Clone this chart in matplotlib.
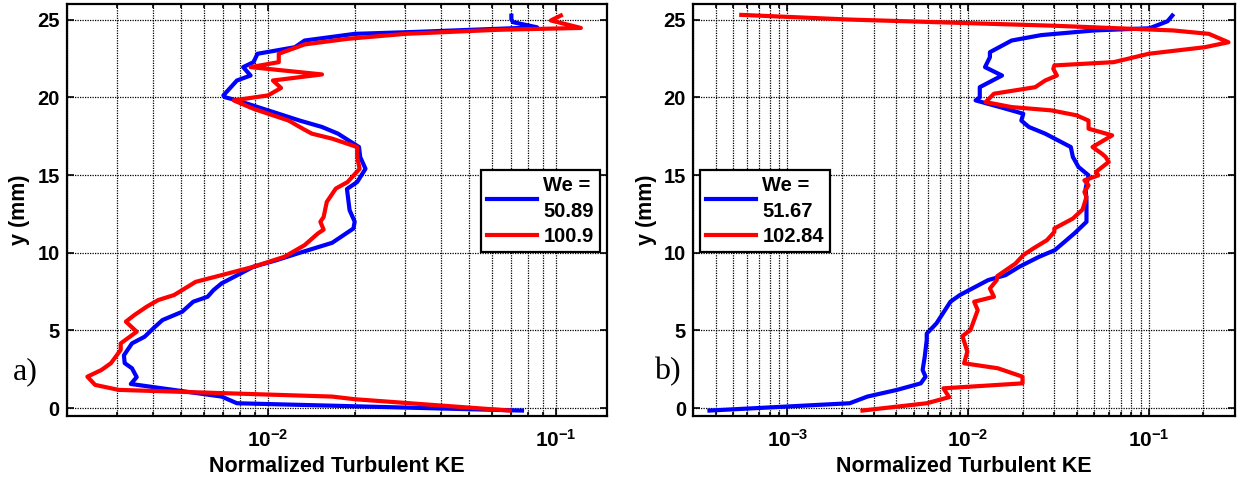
import numpy as np
import matplotlib
matplotlib.use("Agg")
import matplotlib.pyplot as plt
from matplotlib.ticker import LogLocator, FuncFormatter, NullFormatter

plt.rcParams['font.family'] = ['Liberation Sans', 'DejaVu Sans']
plt.rcParams['font.weight'] = 'bold'
plt.rcParams['mathtext.fontset'] = 'custom'
plt.rcParams['mathtext.rm'] = 'Liberation Sans:bold'
plt.rcParams['mathtext.it'] = 'Liberation Sans:bold'
plt.rcParams['mathtext.bf'] = 'Liberation Sans:bold'

# ---------------- data (panel a) ----------------
a_blue_label = "We =\n50.89"
a_blue_y = [-0.15, 0.32, 0.75, 1.56, 2.0, 2.57, 2.9, 3.4, 4.17, 4.6, 5.14, 5.67, 6.2, 6.85,
            7.17, 7.6, 8.03, 9.1, 9.52, 10.0, 10.64, 11.56, 12.0, 12.74, 14.1, 14.55, 15.4,
            16.16, 16.8, 17.66, 18.09, 18.5, 19.16, 19.8, 20.0, 20.12, 21.08, 21.4, 21.72,
            21.94, 22.26, 22.8, 23.22, 23.65, 24.08, 24.2, 24.5, 24.83, 25.0, 25.25]
a_blue_x = [0.0762, 7.8e-3, 6.9e-3, 3.34e-3, 3.5e-3, 3.37e-3, 3.18e-3, 3.16e-3, 3.37e-3,
            3.73e-3, 4.0e-3, 4.3e-3, 5.03e-3, 5.5e-3, 6.17e-3, 6.47e-3, 6.9e-3, 8.9e-3,
            1.07e-2, 1.29e-2, 1.67e-2, 1.98e-2, 2.0e-2, 1.92e-2, 1.88e-2, 2.04e-2, 2.18e-2,
            2.09e-2, 2.07e-2, 1.75e-2, 1.54e-2, 1.29e-2, 1.0e-2, 7.8e-3, 7.1e-3, 7.0e-3,
            7.8e-3, 8.7e-3, 8.4e-3, 8.2e-3, 8.9e-3, 9.2e-3, 1.24e-2, 1.34e-2, 2.0e-2,
            3.2e-2, 8.6e-2, 7.1e-2, 7.0e-2, 7.0e-2]

a_red_label = "100.9"
a_red_y = [-0.15, 0.58, 0.75, 1.18, 1.5, 2.03, 2.46, 2.9, 3.75, 4.17, 4.92, 5.57, 6.0, 6.53,
           6.96, 7.28, 8.13, 8.56, 9.1, 9.74, 10.49, 11.24, 11.49, 11.99, 12.3, 13.27, 14.13,
           14.55, 15.4, 16.16, 16.8, 17.34, 17.66, 17.98, 18.5, 19.26, 19.8, 20.12, 20.6,
           21.08, 21.47, 21.94, 22.26, 22.8, 23.4, 23.76, 24.08, 24.34, 24.46, 24.94, 25.26]
a_red_x = [6.9e-2, 2.0e-2, 1.67e-2, 3.03e-3, 2.51e-3, 2.36e-3, 2.64e-3, 2.85e-3, 3.08e-3,
           3.08e-3, 3.5e-3, 3.21e-3, 3.44e-3, 3.79e-3, 4.16e-3, 4.72e-3, 5.61e-3, 6.9e-3,
           8.9e-3, 1.14e-2, 1.34e-2, 1.49e-2, 1.56e-2, 1.52e-2, 1.56e-2, 1.6e-2, 1.72e-2,
           1.89e-2, 2.08e-2, 2.04e-2, 2.04e-2, 1.67e-2, 1.42e-2, 1.32e-2, 1.18e-2, 8.9e-3,
           7.6e-3, 1.0e-2, 1.11e-2, 1.04e-2, 1.54e-2, 8.7e-3, 1.09e-2, 1.09e-2, 1.34e-2,
           1.89e-2, 3.0e-2, 6.27e-2, 1.22e-1, 9.6e-2, 1.04e-1]

# ---------------- data (panel b) ----------------
b_blue_label = "We =\n51.67"
b_blue_y = [-0.15, 0.32, 0.75, 1.18, 1.6, 2.03, 2.46, 3.3, 4.39, 4.8, 5.46, 6.85, 7.28,
            8.24, 8.56, 9.1, 9.74, 10.17, 11.24, 11.99, 13.38, 14.13, 14.98, 15.52, 16.16,
            16.8, 17.66, 18.09, 18.5, 18.94, 19.37, 19.8, 20.0, 20.65, 21.4, 21.94, 22.58,
            22.9, 23.65, 24.0, 24.3, 24.44, 24.89, 25.26]
b_blue_x = [3.7e-4, 2.21e-3, 2.77e-3, 4.04e-3, 5.47e-3, 5.81e-3, 5.6e-3, 5.75e-3, 5.9e-3,
            5.9e-3, 6.68e-3, 7.98e-3, 9.0e-3, 1.29e-2, 1.61e-2, 1.92e-2, 2.47e-2, 3.02e-2,
            3.87e-2, 4.52e-2, 4.52e-2, 4.47e-2, 4.64e-2, 4.08e-2, 3.8e-2, 3.7e-2, 2.67e-2,
            2.17e-2, 1.97e-2, 2.02e-2, 1.5e-2, 1.1e-2, 1.16e-2, 1.16e-2, 1.54e-2, 1.24e-2,
            1.32e-2, 1.32e-2, 1.74e-2, 2.54e-2, 5.0e-2, 0.101, 0.127, 0.135]

b_red_label = "102.84"
b_red_y = [-0.15, 0.32, 0.71, 1.28, 1.6, 2.03, 2.57, 2.89, 3.64, 4.64, 5.03, 6.31, 6.85,
           7.17, 7.7, 8.24, 8.5, 9.31, 9.85, 10.27, 10.81, 11.34, 11.56, 12.2, 12.78, 13.59,
           13.91, 14.34, 14.66, 14.98, 15.2, 15.84, 16.16, 16.37, 16.8, 17.55, 17.98, 18.5,
           18.84, 19.16, 19.37, 19.69, 20.23, 20.65, 21.08, 21.4, 21.83, 22.05, 22.26, 22.8,
           23.22, 23.54, 24.08, 24.3, 24.6, 25.0, 25.3]
b_red_x = [2.6e-3, 5.9e-3, 7.85e-3, 7.3e-3, 2.0e-2, 2.0e-2, 1.46e-2, 9.5e-3, 9.9e-3, 9.3e-3,
           1.03e-2, 1.13e-2, 1.08e-2, 1.39e-2, 1.32e-2, 1.44e-2, 1.45e-2, 1.83e-2, 2.02e-2,
           2.29e-2, 2.73e-2, 3.0e-2, 3.0e-2, 3.8e-2, 4.3e-2, 4.52e-2, 4.4e-2, 4.64e-2, 4.4e-2,
           5.26e-2, 5.1e-2, 6.0e-2, 5.77e-2, 5.5e-2, 4.88e-2, 6.27e-2, 4.64e-2, 4.64e-2,
           3.98e-2, 2.88e-2, 1.74e-2, 1.25e-2, 1.39e-2, 2.35e-2, 2.67e-2, 3.1e-2, 2.96e-2,
           3.0e-2, 6.4e-2, 0.1, 0.204, 0.276, 0.215, 0.136, 3.02e-2, 2.2e-3, 5.55e-4]

y_ticks = [0, 5, 10, 15, 20, 25]
panel_letters = ["a)", "b)"]
xlabel_text = "Normalized Turbulent KE"
ylabel_text = "y (mm)"

# ---------------- figure ----------------
W, H = 1238, 482
fig = plt.figure(figsize=(W / 100, H / 100), dpi=100)

def px_axes(x0, x1, y0, y1):
    return fig.add_axes([x0 / W, 1 - y1 / H, (x1 - x0) / W, (y1 - y0) / H])

ax_a = px_axes(66.7, 606.7, 4, 416)
ax_b = px_axes(693, 1235, 4, 416)

fmt = FuncFormatter(lambda v, p: r'$10^{%d}$' % int(round(np.log10(v))))

def style(ax, xlim):
    ax.set_xscale('log')
    ax.set_xlim(*xlim)
    ax.set_ylim(-0.5, 26)
    ax.set_yticks(y_ticks)
    ax.xaxis.set_major_locator(LogLocator(base=10, numticks=10))
    ax.xaxis.set_minor_locator(LogLocator(base=10, subs=np.arange(2, 10), numticks=50))
    ax.xaxis.set_major_formatter(fmt)
    ax.xaxis.set_minor_formatter(NullFormatter())
    ax.grid(True, which='major', axis='both', color='k', linestyle=(0, (1, 1)), linewidth=0.9)
    ax.grid(True, which='minor', axis='x', color='k', linestyle=(0, (1, 1)), linewidth=0.9)
    ax.tick_params(which='both', direction='in', top=True, right=True, width=1.2)
    ax.tick_params(which='major', length=5, labelsize=14.5, pad=5)
    ax.tick_params(axis='x', which='major', pad=9, labelsize=15)
    ax.tick_params(which='minor', length=3)
    for s in ax.spines.values():
        s.set_linewidth(1.6)
    ax.set_xlabel(xlabel_text, fontsize=15.5, fontweight='bold', labelpad=4)
    ax.set_ylabel(ylabel_text, fontsize=15.5, fontweight='bold', labelpad=5)
    for lab in ax.get_yticklabels():
        lab.set_fontweight('bold')

style(ax_a, (2e-3, 0.15))
style(ax_b, (3e-4, 0.3))

lw = 3.0
ax_a.plot(a_blue_x, a_blue_y, color='#0000ff', lw=lw, label=a_blue_label)
ax_a.plot(a_red_x, a_red_y, color='#ff0000', lw=lw, label=a_red_label)
ax_b.plot(b_blue_x, b_blue_y, color='#0000ff', lw=lw, label=b_blue_label)
ax_b.plot(b_red_x, b_red_y, color='#ff0000', lw=lw, label=b_red_label)

leg_kw = dict(fontsize=14.5, frameon=True, fancybox=False, shadow=False,
              handlelength=2.5, handletextpad=0.3, labelspacing=0.3,
              borderpad=0.3, borderaxespad=0.0, framealpha=1.0)
lg_a = ax_a.legend(loc='upper right', bbox_to_anchor=(0.9876, 0.597), **leg_kw)
lg_b = ax_b.legend(loc='upper left', bbox_to_anchor=(0.013, 0.597), **leg_kw)
for lg in (lg_a, lg_b):
    lg.get_frame().set_edgecolor('k')
    lg.get_frame().set_linewidth(1.6)
    for t in lg.get_texts():
        t.set_fontweight('bold')
        t.set_linespacing(1.45)

fig.text(25 / W, 1 - 372 / H, panel_letters[0], fontsize=23, family='Liberation Serif',
         fontweight='normal', ha='center', va='center')
fig.text(667 / W, 1 - 372 / H, panel_letters[1], fontsize=23, family='Liberation Serif',
         fontweight='normal', ha='center', va='center')

fig.savefig('out.png', dpi=100)
